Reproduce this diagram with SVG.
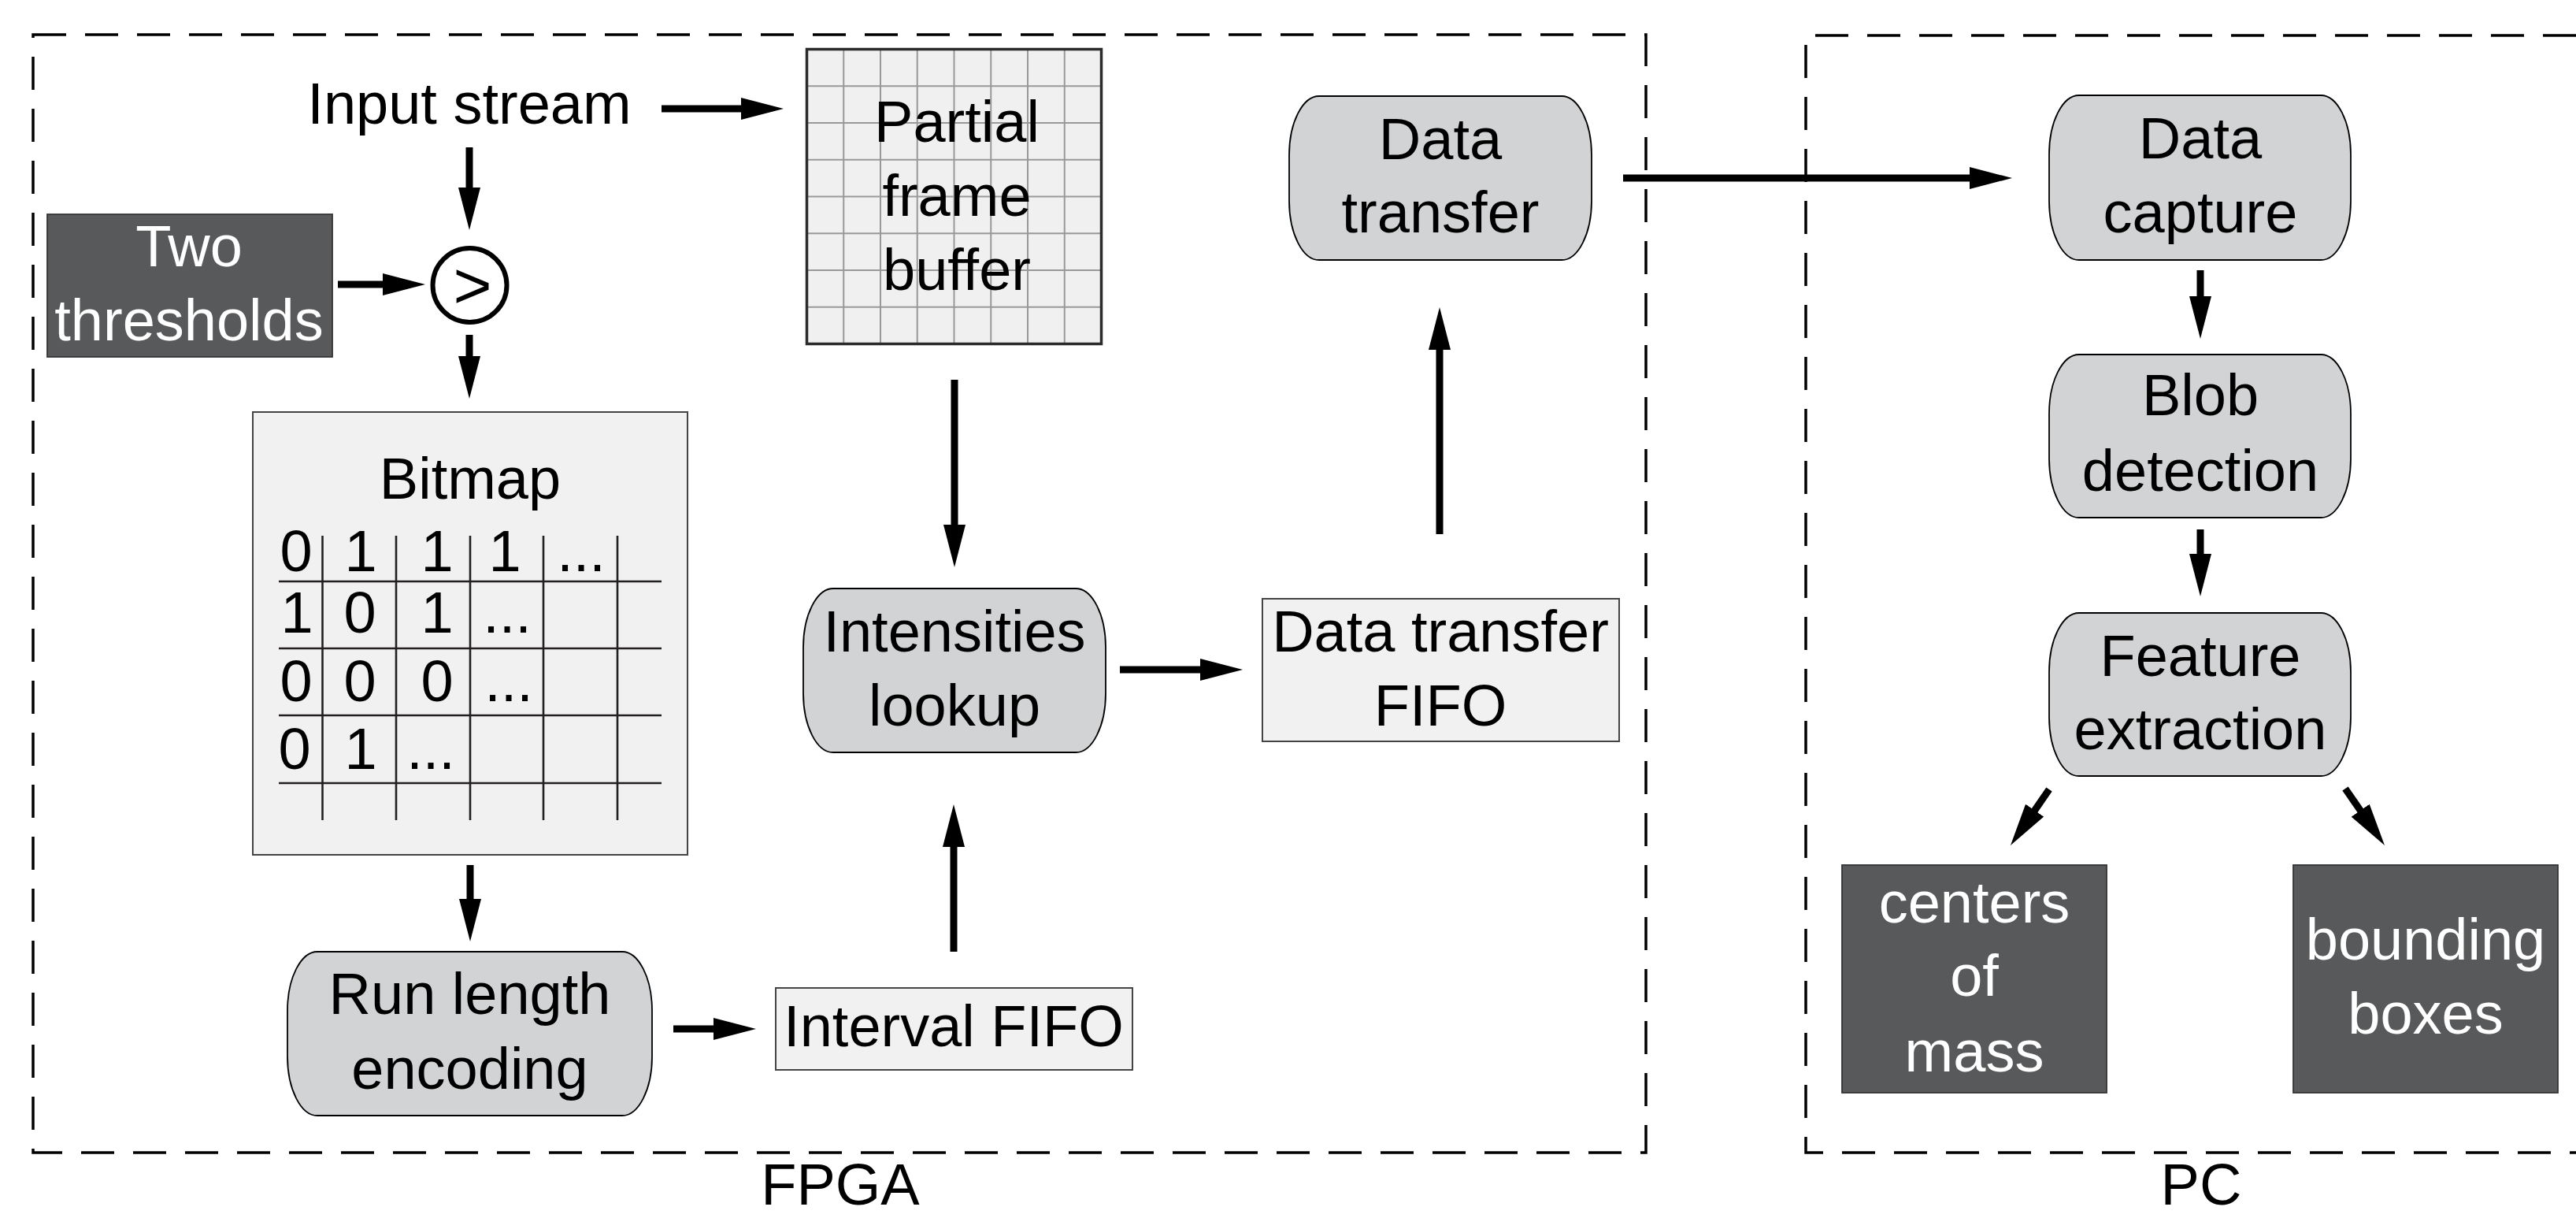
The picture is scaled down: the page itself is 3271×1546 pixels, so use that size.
<svg xmlns="http://www.w3.org/2000/svg" width="3271" height="1546" viewBox="0 0 3271 1546">
<style>
text{font-family:"Liberation Sans",Arial,sans-serif;font-size:74px;fill:#000;text-anchor:middle}
.w{fill:#fff}
.proc{fill:#d1d3d4;stroke:#000;stroke-width:1.8}
.light{fill:#f1f1f1;stroke:#444;stroke-width:2}
.dark{fill:#58595b;stroke:#333;stroke-width:1.8}
.dash{fill:none;stroke:#000;stroke-width:3.5;stroke-dasharray:42 24}
.grid{stroke:#999;stroke-width:2}
.bm{stroke:#231f20;stroke-width:2.6}
.arr{stroke:#000;stroke-width:9;fill:none;marker-end:url(#ah)}
</style>
<defs>
<marker id="ah" markerUnits="userSpaceOnUse" markerWidth="54" markerHeight="28" refX="14" refY="14" orient="auto" viewBox="0 0 54 28">
<path d="M0,0 L54,14 L0,28 Z" fill="#000"/>
</marker>
</defs>
<rect width="3271" height="1546" fill="#fff"/>

<g id="fpga-region">
<rect class="dash" x="42" y="44" width="2048" height="1419"/>
<text x="1067" y="1529">FPGA</text>
</g>
<g id="pc-region">
<path class="dash" d="M3271,45 H2293 V1463 H3271"/>
<text x="2795" y="1529">PC</text>
</g>

<g id="input-stream">
<text x="596" y="157">Input stream</text>
</g>

<g id="two-thresholds">
<rect class="dark" x="60" y="272" width="362" height="181"/>
<text class="w" x="240" y="338">Two</text>
<text class="w" x="240" y="432">thresholds</text>
</g>

<g id="comparator">
<circle cx="596.5" cy="362" r="47" fill="#fff" stroke="#000" stroke-width="6"/>
<text x="600" y="391" style="font-size:84px">&gt;</text>
</g>

<g id="bitmap">
<rect class="light" x="321" y="523" width="552" height="562"/>
<text x="597" y="633">Bitmap</text>
<g class="bm">
<line x1="409.5" y1="680" x2="409.5" y2="1041"/>
<line x1="503" y1="680" x2="503" y2="1041"/>
<line x1="597" y1="680" x2="597" y2="1041"/>
<line x1="690" y1="680" x2="690" y2="1041"/>
<line x1="784" y1="680" x2="784" y2="1041"/>
<line x1="354" y1="738" x2="840" y2="738"/>
<line x1="354" y1="823" x2="840" y2="823"/>
<line x1="354" y1="908" x2="840" y2="908"/>
<line x1="354" y1="994" x2="840" y2="994"/>
</g>
<text x="376" y="725">0</text><text x="458" y="725">1</text><text x="555" y="725">1</text><text x="641" y="725">1</text><text x="738" y="725">...</text>
<text x="377" y="803">1</text><text x="457" y="803">0</text><text x="555" y="803">1</text><text x="644" y="803">...</text>
<text x="376" y="890">0</text><text x="457" y="890">0</text><text x="555" y="890">0</text><text x="646" y="890">...</text>
<text x="374" y="976">0</text><text x="458" y="976">1</text><text x="547" y="976">...</text>
</g>

<g id="partial-frame-buffer">
<rect x="1024.5" y="62.5" width="374" height="374" fill="#f0f0f0"/>
<g class="grid">
<line x1="1071.25" y1="62.5" x2="1071.25" y2="436.5"/>
<line x1="1118" y1="62.5" x2="1118" y2="436.5"/>
<line x1="1164.75" y1="62.5" x2="1164.75" y2="436.5"/>
<line x1="1211.5" y1="62.5" x2="1211.5" y2="436.5"/>
<line x1="1258.25" y1="62.5" x2="1258.25" y2="436.5"/>
<line x1="1305" y1="62.5" x2="1305" y2="436.5"/>
<line x1="1351.75" y1="62.5" x2="1351.75" y2="436.5"/>
<line x1="1024.5" y1="109.25" x2="1398.5" y2="109.25"/>
<line x1="1024.5" y1="156" x2="1398.5" y2="156"/>
<line x1="1024.5" y1="202.75" x2="1398.5" y2="202.75"/>
<line x1="1024.5" y1="249.5" x2="1398.5" y2="249.5"/>
<line x1="1024.5" y1="296.25" x2="1398.5" y2="296.25"/>
<line x1="1024.5" y1="343" x2="1398.5" y2="343"/>
<line x1="1024.5" y1="389.75" x2="1398.5" y2="389.75"/>
</g>
<rect x="1024.5" y="62.5" width="374" height="374" fill="none" stroke="#2b2b2b" stroke-width="3.5"/>
<text x="1215" y="180">Partial</text>
<text x="1215" y="274">frame</text>
<text x="1215" y="368">buffer</text>
</g>

<g id="data-transfer">
<rect class="proc" x="1637" y="122" width="384" height="208" rx="38" ry="75"/>
<text x="1829" y="202">Data</text>
<text x="1829" y="295">transfer</text>
</g>

<g id="intensities-lookup">
<rect class="proc" x="1020" y="747" width="384" height="208" rx="38" ry="75"/>
<text x="1212" y="827">Intensities</text>
<text x="1212" y="921">lookup</text>
</g>

<g id="data-transfer-fifo">
<rect class="light" x="1603" y="760" width="453" height="181"/>
<text x="1829" y="827">Data transfer</text>
<text x="1829" y="921">FIFO</text>
</g>

<g id="run-length-encoding">
<rect class="proc" x="365" y="1208" width="463" height="208" rx="38" ry="75"/>
<text x="596.5" y="1287">Run length</text>
<text x="596.5" y="1382">encoding</text>
</g>

<g id="interval-fifo">
<rect class="light" x="985" y="1254" width="453" height="104"/>
<text x="1211" y="1328">Interval FIFO</text>
</g>

<g id="data-capture">
<rect class="proc" x="2602" y="121" width="383" height="209" rx="38" ry="75"/>
<text x="2794" y="201">Data</text>
<text x="2794" y="295">capture</text>
</g>

<g id="blob-detection">
<rect class="proc" x="2602" y="450" width="383" height="207" rx="38" ry="75"/>
<text x="2794" y="527">Blob</text>
<text x="2794" y="623">detection</text>
</g>

<g id="feature-extraction">
<rect class="proc" x="2602" y="778" width="383" height="207" rx="38" ry="75"/>
<text x="2794" y="858">Feature</text>
<text x="2794" y="951">extraction</text>
</g>

<g id="centers-of-mass">
<rect class="dark" x="2339" y="1098" width="336" height="289"/>
<text class="w" x="2507" y="1171">centers</text>
<text class="w" x="2507" y="1264">of</text>
<text class="w" x="2507" y="1360">mass</text>
</g>

<g id="bounding-boxes">
<rect class="dark" x="2912" y="1098" width="336" height="289"/>
<text class="w" x="3080" y="1218">bounding</text>
<text class="w" x="3080" y="1312">boxes</text>
</g>

<g id="connectors">
<line class="arr" x1="840" y1="138" x2="955" y2="138"/>
<line class="arr" x1="596" y1="187" x2="596" y2="252"/>
<line class="arr" x1="429" y1="361" x2="500" y2="361"/>
<line class="arr" x1="596" y1="425" x2="596" y2="466"/>
<line class="arr" x1="597" y1="1098" x2="597" y2="1155"/>
<line class="arr" x1="855" y1="1306" x2="920" y2="1306"/>
<line class="arr" x1="1211" y1="1208" x2="1211" y2="1061"/>
<line class="arr" x1="1212" y1="482" x2="1212" y2="680"/>
<line class="arr" x1="1422" y1="850" x2="1538" y2="850"/>
<line class="arr" x1="1828" y1="678" x2="1828" y2="430"/>
<line class="arr" x1="2061" y1="226" x2="2515" y2="226"/>
<line class="arr" x1="2794" y1="343" x2="2794" y2="390"/>
<line class="arr" x1="2794" y1="672" x2="2794" y2="717"/>
<line class="arr" x1="2602" y1="1002" x2="2575.7" y2="1040.1"/>
<line class="arr" x1="2978" y1="1001" x2="3005.2" y2="1040.2"/>
</g>
</svg>
